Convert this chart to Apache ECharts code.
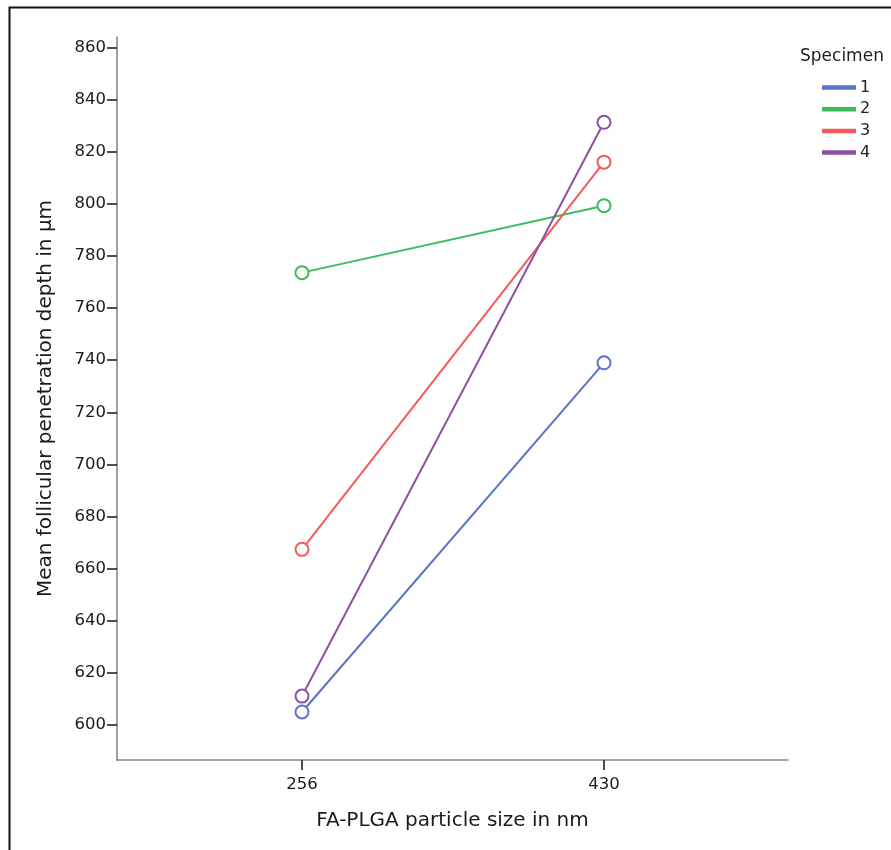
<!DOCTYPE html>
<html>
<head>
<meta charset="utf-8">
<script src="https://cdn.jsdelivr.net/npm/echarts@6/dist/echarts.min.js"></script>
<style>
html,body{margin:0;padding:0;background:#fff;}
#chart{width:891px;height:850px;}
</style>
</head>
<body>
<div id="chart"></div>
<script>
const categories = ['256', '430'];
const specimenNames = ['1', '2', '3', '4'];
const specimen1 = [605.0, 739.0];
const specimen2 = [773.6, 799.3];
const specimen3 = [667.4, 816.0];
const specimen4 = [611.1, 831.3];
const yTickMin = 600, yTickMax = 860, yTickStep = 20;
const colors = ['#5a74c9', '#3ebd5c', '#f55a5a', '#8e50a2'];
const seriesValues = [specimen1, specimen2, specimen3, specimen4];

const FONT = 'DejaVu Sans';
const chart = echarts.init(document.getElementById('chart'), null, {renderer: 'canvas'});

const series = specimenNames.map((n, i) => ({
  name: n,
  type: 'line',
  xAxisIndex: 0,
  yAxisIndex: 0,
  data: seriesValues[i],
  symbol: 'emptyCircle',
  symbolSize: 13,
  showAllSymbol: true,
  lineStyle: {color: colors[i], width: 2},
  itemStyle: {color: colors[i], borderColor: colors[i], borderWidth: 1.6},
  emphasis: {disabled: true},
  animation: false,
  z: 3
}));

const option = {
  animation: false,
  backgroundColor: '#fff',
  textStyle: {fontFamily: FONT},
  graphic: [{
    type: 'rect',
    shape: {x: 9.5, y: 7.5, width: 1000, height: 1000},
    style: {fill: 'none', stroke: '#111', lineWidth: 2},
    silent: true, z: -1
  }],
  title: {
    text: 'Specimen',
    left: 800, top: 48, padding: 0,
    textStyle: {fontFamily: FONT, fontSize: 17, fontWeight: 'normal', color: '#222'}
  },
  legend: {
    orient: 'vertical',
    left: 822, top: 78.5, padding: 0,
    data: specimenNames,
    icon: 'rect',
    itemWidth: 32, itemHeight: 2.5,
    itemGap: 3.7,
    textStyle: {fontFamily: FONT, fontSize: 16, color: '#222', lineHeight: 18, padding: [0, 0, 0, 0]},
    selectedMode: false
  },
  grid: [
    {left: 302, right: 287, top: 47.5, bottom: 125},
    {left: 117, right: 103, top: 37, bottom: 90}
  ],
  xAxis: [
    {
      gridIndex: 0, type: 'category', data: categories, boundaryGap: false,
      offset: 35,
      axisLine: {show: false},
      axisTick: {show: true, length: 10, lineStyle: {color: '#222', width: 1.6}},
      axisLabel: {fontFamily: FONT, fontSize: 16.5, color: '#1a1a1a', margin: 16},
      splitLine: {show: false}
    },
    {
      gridIndex: 1, type: 'value', min: 0, max: 1,
      axisLine: {show: true, onZero: false, lineStyle: {color: '#888', width: 1.6}},
      axisTick: {show: false}, axisLabel: {show: false}, splitLine: {show: false},
      name: 'FA-PLGA particle size in nm', nameLocation: 'middle', nameGap: 51,
      nameTextStyle: {fontFamily: FONT, fontSize: 20, color: '#1a1a1a'}
    }
  ],
  yAxis: [
    {
      gridIndex: 0, type: 'value', min: yTickMin, max: yTickMax, interval: yTickStep,
      offset: 185,
      axisLine: {show: false},
      axisTick: {show: true, length: 10, lineStyle: {color: '#222', width: 1.6}},
      axisLabel: {fontFamily: FONT, fontSize: 16.5, color: '#1a1a1a', margin: 11},
      splitLine: {show: false}
    },
    {
      gridIndex: 1, type: 'value', min: 0, max: 1,
      axisLine: {show: true, onZero: false, lineStyle: {color: '#888', width: 1.6}},
      axisTick: {show: false}, axisLabel: {show: false}, splitLine: {show: false},
      name: 'Mean follicular penetration depth in µm', nameLocation: 'middle', nameGap: 61,
      nameTextStyle: {fontFamily: FONT, fontSize: 20, color: '#1a1a1a'}
    }
  ],
  series: series
};
chart.setOption(option);
</script>
</body>
</html>
